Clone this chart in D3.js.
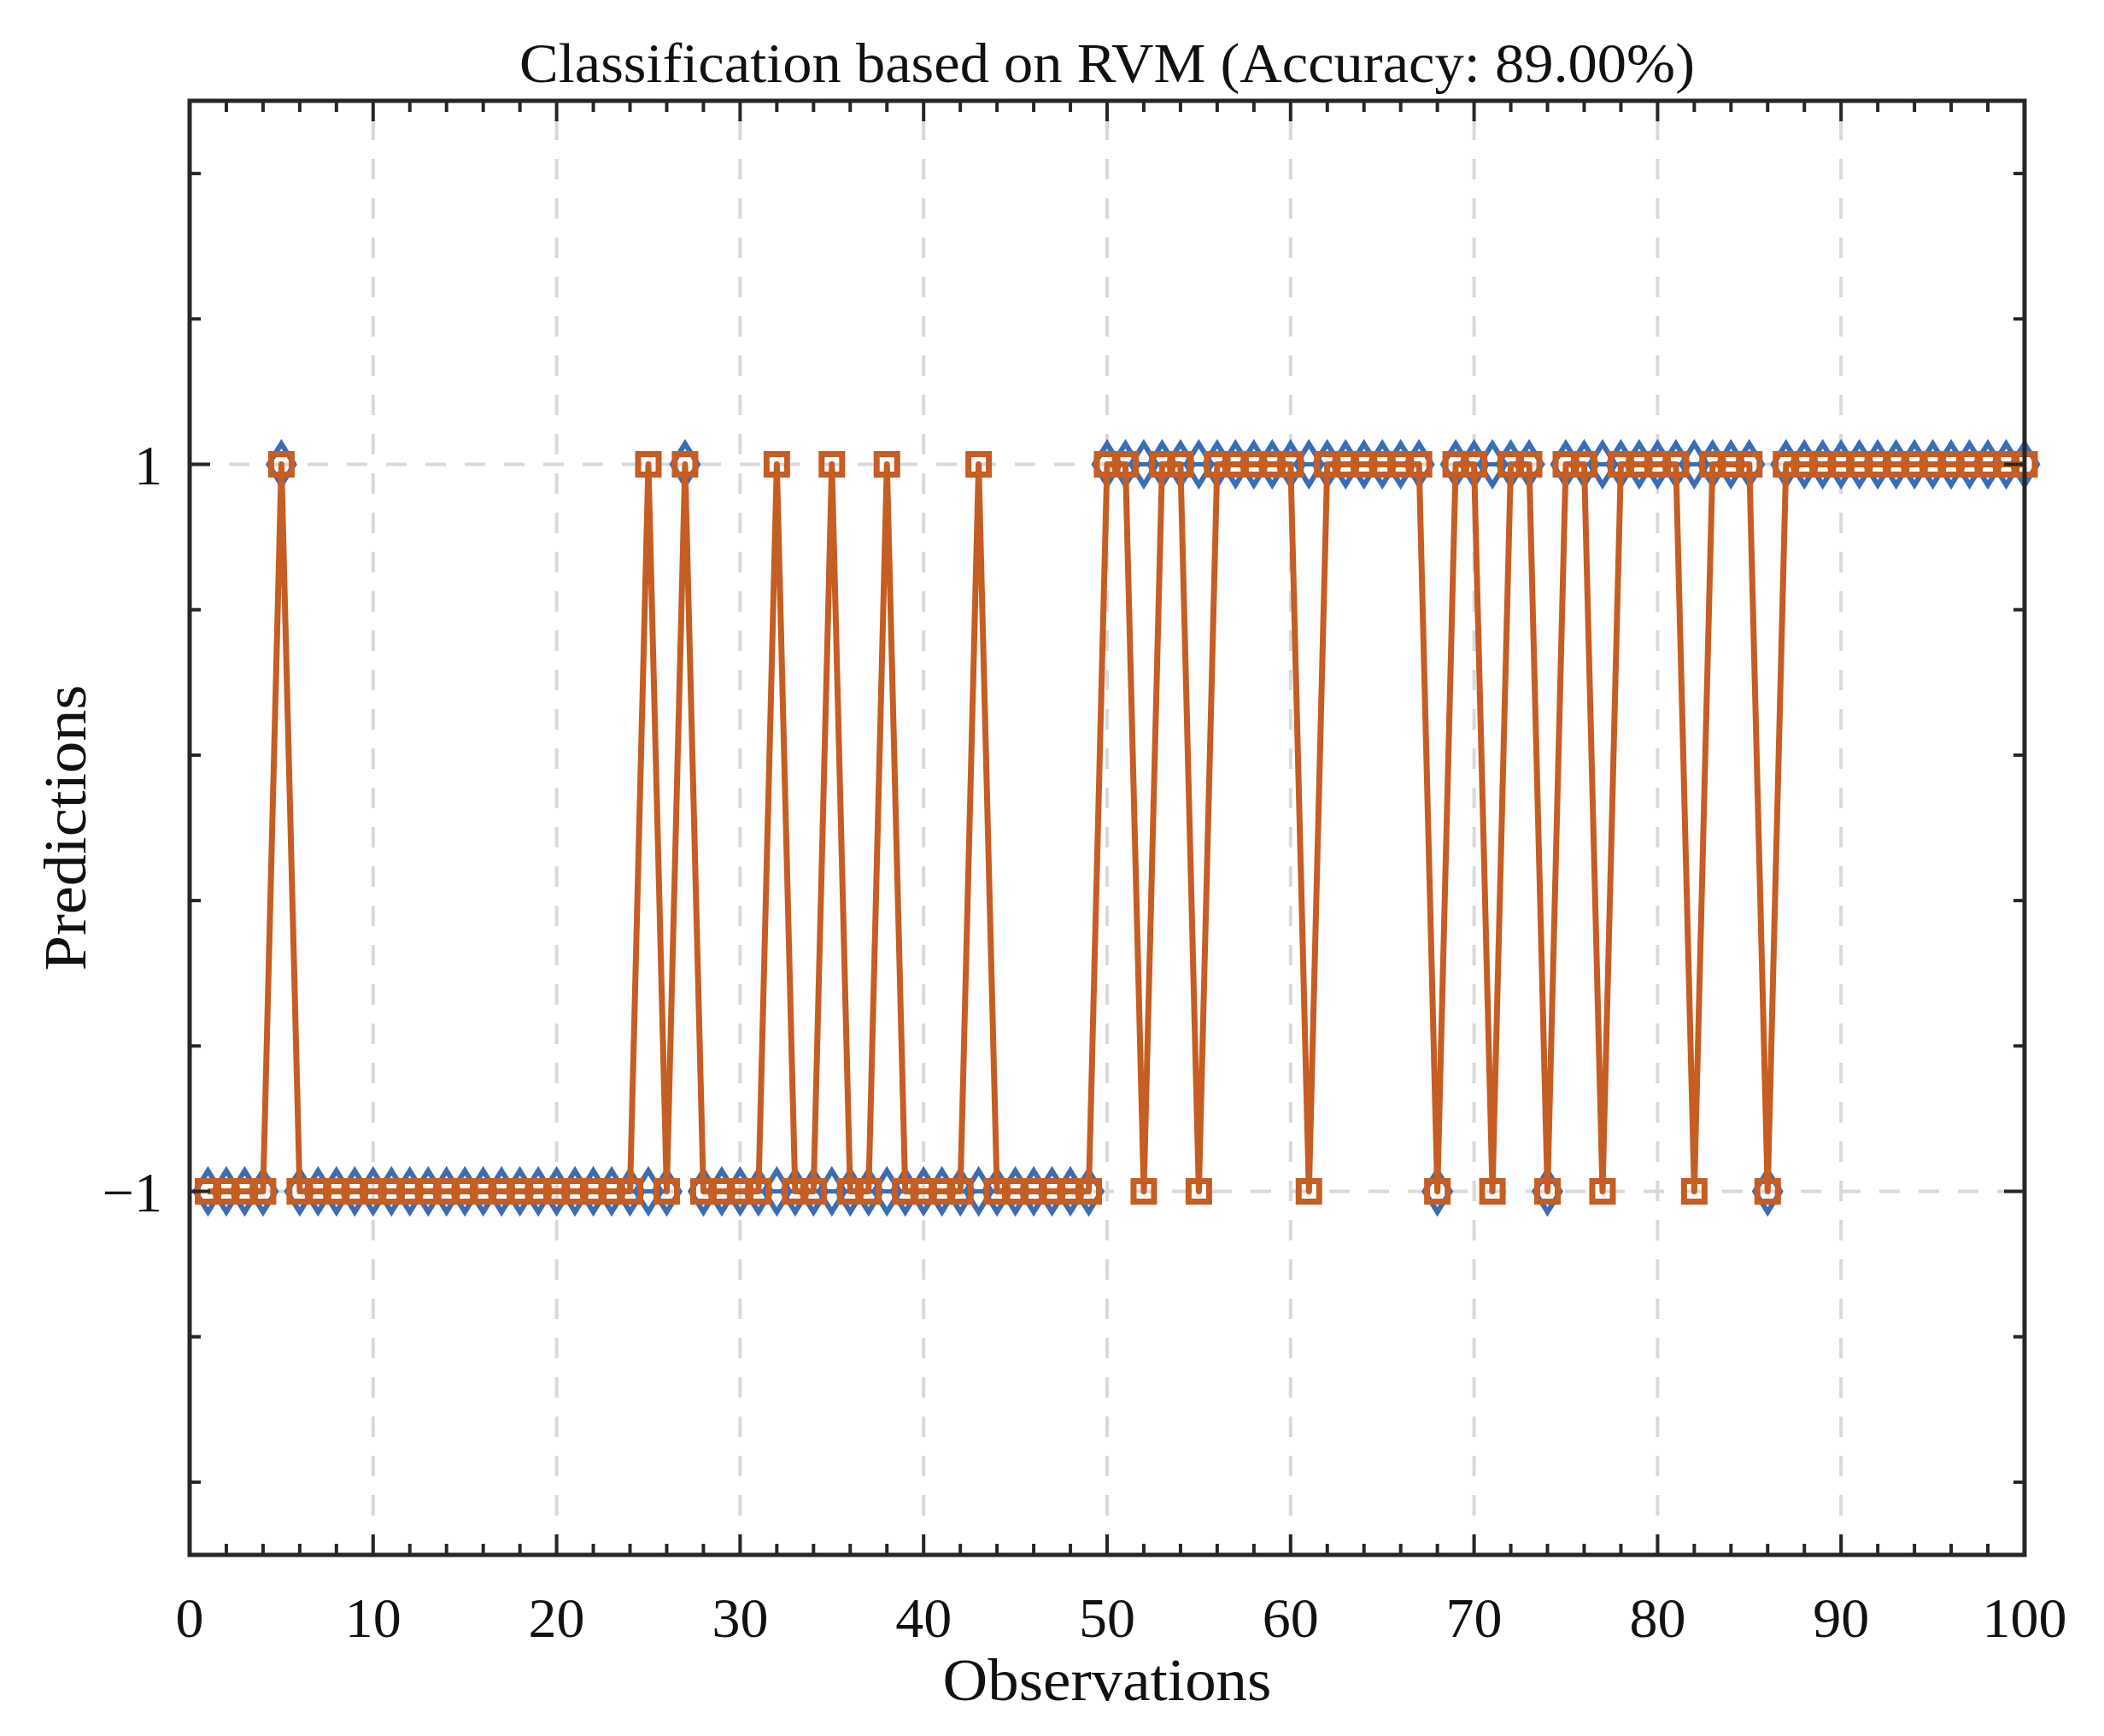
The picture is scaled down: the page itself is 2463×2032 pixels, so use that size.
<!DOCTYPE html>
<html>
<head>
<meta charset="utf-8">
<script src="https://cdn.jsdelivr.net/npm/d3@7"></script>
<style>
  html, body { margin: 0; padding: 0; background: #fff; }
  svg { display: block; }
</style>
</head>
<body>
<div id="chart"></div>
<script>
// observations 1..100
const observations = d3.range(1, 101);

// true labels (blue diamonds)
const actualLabels = [
  -1, -1, -1, -1,  1, -1, -1, -1, -1, -1,
  -1, -1, -1, -1, -1, -1, -1, -1, -1, -1,
  -1, -1, -1, -1, -1, -1,  1, -1, -1, -1,
  -1, -1, -1, -1, -1, -1, -1, -1, -1, -1,
  -1, -1, -1, -1, -1, -1, -1, -1, -1,  1,
   1,  1,  1,  1,  1,  1,  1,  1,  1,  1,
   1,  1,  1,  1,  1,  1,  1, -1,  1,  1,
   1,  1,  1, -1,  1,  1,  1,  1,  1,  1,
   1,  1,  1,  1,  1, -1,  1,  1,  1,  1,
   1,  1,  1,  1,  1,  1,  1,  1,  1,  1
];

// RVM predictions (orange squares)
const predictedLabels = [
  -1, -1, -1, -1,  1, -1, -1, -1, -1, -1,
  -1, -1, -1, -1, -1, -1, -1, -1, -1, -1,
  -1, -1, -1, -1,  1, -1,  1, -1, -1, -1,
  -1,  1, -1, -1,  1, -1, -1,  1, -1, -1,
  -1, -1,  1, -1, -1, -1, -1, -1, -1,  1,
   1, -1,  1,  1, -1,  1,  1,  1,  1,  1,
  -1,  1,  1,  1,  1,  1,  1, -1,  1,  1,
  -1,  1,  1, -1,  1,  1, -1,  1,  1,  1,
   1, -1,  1,  1,  1, -1,  1,  1,  1,  1,
   1,  1,  1,  1,  1,  1,  1,  1,  1,  1
];

const xTicks = [0, 10, 20, 30, 40, 50, 60, 70, 80, 90, 100];
const xMinorTicks = d3.range(0, 101, 2);
const yTicks = [-1, 1];
const yMinorTicks = [-1.8, -1.4, -0.6, -0.2, 0.2, 0.6, 1.4, 1.8];

const W = 2463, H = 2032;
const margin = { top: 118, right: 93, bottom: 212, left: 222 };
const BLUE = "#3a6db5";
const ORANGE = "#c65d22";
const AXIS = "#262626";
const FONT = "'Liberation Serif', 'Times New Roman', serif";

const svg = d3.select("#chart").append("svg")
  .attr("width", W).attr("height", H);

const x = d3.scaleLinear().domain([0, 100]).range([margin.left, W - margin.right]);
const y = d3.scaleLinear().domain([-2, 2]).range([H - margin.bottom, margin.top]);

const x0 = x.range()[0], x1 = x.range()[1];
const yb = y.range()[0], yt = y.range()[1];

// grid
const grid = svg.append("g").attr("stroke", "#d9d9d9").attr("stroke-width", 4)
  .attr("stroke-dasharray", "24,22");
grid.selectAll(".gx").data(xTicks.slice(1, -1)).join("line")
  .attr("x1", d => x(d)).attr("x2", d => x(d)).attr("y1", yb).attr("y2", yt);
grid.selectAll(".gy").data(yTicks).join("line")
  .attr("x1", x0).attr("x2", x1).attr("y1", d => y(d)).attr("y2", d => y(d));

// data series
const actual = observations.map((o, i) => ({ x: o, y: actualLabels[i] }));
const predicted = observations.map((o, i) => ({ x: o, y: predictedLabels[i] }));
const line = d3.line().x(d => x(d.x)).y(d => y(d.y));

const plot = svg.append("g");
plot.append("path").datum(actual).attr("d", line)
  .attr("fill", "none").attr("stroke", BLUE).attr("stroke-width", 5);
plot.selectAll(".diamond").data(actual).join("path")
  .attr("d", d => {
    const cx = x(d.x), cy = y(d.y), hw = 15, hh = 24;
    return `M${cx},${cy - hh}L${cx + hw},${cy}L${cx},${cy + hh}L${cx - hw},${cy}Z`;
  })
  .attr("fill", "none").attr("stroke", BLUE).attr("stroke-width", 6);

plot.append("path").datum(predicted).attr("d", line)
  .attr("fill", "none").attr("stroke", ORANGE).attr("stroke-width", 7)
  .attr("stroke-linejoin", "round");
plot.selectAll(".square").data(predicted).join("rect")
  .attr("x", d => x(d.x) - 12).attr("y", d => y(d.y) - 12)
  .attr("width", 24).attr("height", 24)
  .attr("fill", "none").attr("stroke", ORANGE).attr("stroke-width", 7);

// axes box and ticks
const axes = svg.append("g").attr("stroke", AXIS);
axes.append("rect").attr("x", x0).attr("y", yt).attr("width", x1 - x0).attr("height", yb - yt)
  .attr("fill", "none").attr("stroke-width", 5);

const tickG = axes.append("g").attr("stroke-width", 4);
const xt = xMinorTicks.map(v => ({ v, len: v % 10 === 0 ? 24 : 13 }));
tickG.selectAll(".xtb").data(xt).join("line")
  .attr("x1", d => x(d.v)).attr("x2", d => x(d.v)).attr("y1", yb).attr("y2", d => yb - d.len);
tickG.selectAll(".xtt").data(xt).join("line")
  .attr("x1", d => x(d.v)).attr("x2", d => x(d.v)).attr("y1", yt).attr("y2", d => yt + d.len);
const yt2 = yTicks.map(v => ({ v, len: 24 })).concat(yMinorTicks.map(v => ({ v, len: 13 })));
tickG.selectAll(".ytl").data(yt2).join("line")
  .attr("x1", x0).attr("x2", d => x0 + d.len).attr("y1", d => y(d.v)).attr("y2", d => y(d.v));
tickG.selectAll(".ytr").data(yt2).join("line")
  .attr("x1", x1).attr("x2", d => x1 - d.len).attr("y1", d => y(d.v)).attr("y2", d => y(d.v));

// tick labels
const labels = svg.append("g").attr("font-family", FONT).attr("fill", "#111");
labels.selectAll(".xl").data(xTicks).join("text")
  .attr("x", d => x(d)).attr("y", 1916)
  .attr("text-anchor", "middle").attr("font-size", 66)
  .text(d => d);
labels.selectAll(".yl").data(yTicks).join("text")
  .attr("x", x0 - 32).attr("y", d => y(d)).attr("dy", "0.35em")
  .attr("text-anchor", "end").attr("font-size", 66)
  .text(d => d < 0 ? "\u2212" + Math.abs(d) : d);

// titles
svg.append("text")
  .attr("x", (x0 + x1) / 2).attr("y", 96)
  .attr("text-anchor", "middle").attr("font-family", FONT).attr("font-size", 66)
  .attr("fill", "#111")
  .attr("textLength", 1376).attr("lengthAdjust", "spacingAndGlyphs")
  .text("Classification based on RVM (Accuracy: 89.00%)");

svg.append("text")
  .attr("x", (x0 + x1) / 2).attr("y", 1990)
  .attr("text-anchor", "middle").attr("font-family", FONT).attr("font-size", 70)
  .attr("fill", "#111")
  .attr("textLength", 385).attr("lengthAdjust", "spacingAndGlyphs")
  .text("Observations");

svg.append("text")
  .attr("transform", `translate(100,${(yt + yb) / 2}) rotate(-90)`)
  .attr("text-anchor", "middle").attr("font-family", FONT).attr("font-size", 70)
  .attr("fill", "#111")
  .attr("textLength", 335).attr("lengthAdjust", "spacingAndGlyphs")
  .text("Predictions");
</script>
</body>
</html>
